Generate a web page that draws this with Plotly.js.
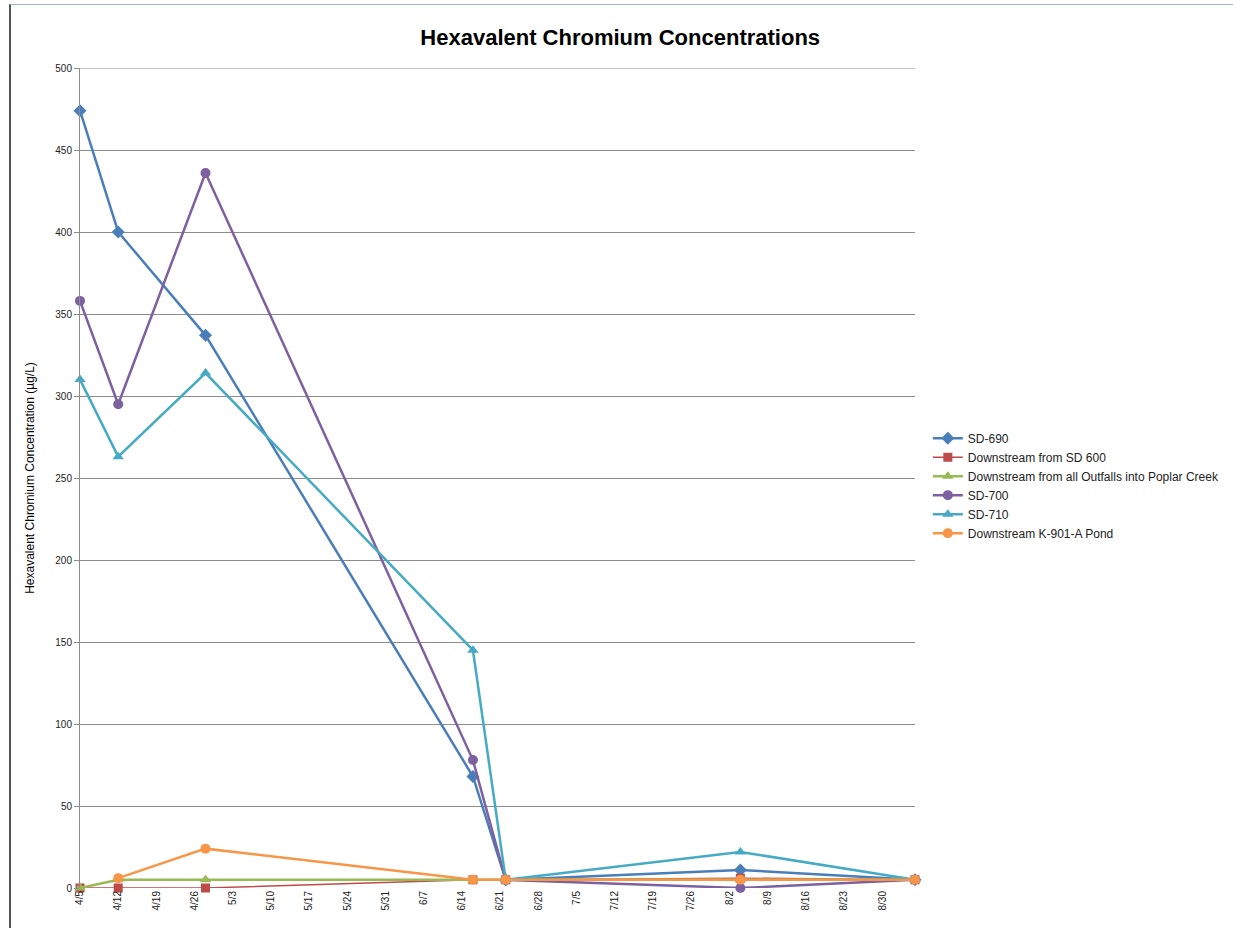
<!DOCTYPE html>
<html>
<head>
<meta charset="utf-8">
<script src="https://cdn.plot.ly/plotly-3.0.1.min.js"></script>
<style>
html,body{margin:0;padding:0;background:#fff;}
#wrap{position:relative;width:1233px;height:928px;}
#chart{width:1233px;height:928px;}
#frame{position:absolute;left:9px;top:4px;width:1222px;height:930px;border-left:2px solid #555;border-top:1px solid #9bb;pointer-events:none;}
</style>
</head>
<body>
<div id="wrap"><div id="chart"></div><div id="frame"></div></div>
<script>
const dates = ['2011-04-05','2011-04-12','2011-04-28','2011-06-16','2011-06-22','2011-08-04','2011-09-05'];
const sd690 = [474, 400, 337, 68, 5, 11, 5];
const downSD600 = [0, 0, 0, 5, 5, 6, 5];
const downAllOutfalls = [0, 5, 5, 5, 5, 5, 5];
const sd700 = [358, 295, 436, 78, 5, 0, 5];
const sd710 = [310, 263, 314, 145, 5, 22, 5];
const downK901A = [null, 6, 24, 5, 5, 5, 5];

const names = ['SD-690','Downstream from SD 600','Downstream from all Outfalls into Poplar Creek','SD-700','SD-710','Downstream K-901-A Pond'];
const colors = ['#4A7EBB','#BE4B48','#98B954','#7D60A0','#46AAC5','#F79646'];
const symbols = ['diamond','square','triangle-up','circle','triangle-up','circle'];
const widths = [2.5, 1.5, 2.5, 2.5, 2.5, 2.5];
const series = [sd690, downSD600, downAllOutfalls, sd700, sd710, downK901A];

const traces = series.map((s,i)=>({
  x: dates, y: s, name: names[i], type:'scatter', mode:'lines+markers', cliponaxis:false,
  line:{color:colors[i], width:widths[i]},
  marker:{color:colors[i], symbol:symbols[i], size: i===1?9:10}
}));

const layout = {
  width:1233, height:928,
  margin:{l:80, r:318, t:68, b:40},
  paper_bgcolor:'#fff', plot_bgcolor:'#fff',
  title:{text:'<b>Hexavalent Chromium Concentrations</b>', x:0.503, xanchor:'center', y:0.96, yanchor:'middle',
         font:{family:'Liberation Sans, Arial, sans-serif', size:22, color:'#000'}},
  xaxis:{type:'date', range:['2011-04-05','2011-09-05'], tick0:'2011-04-05', dtick:7*86400000,
         tickformat:'%-m/%-d', tickangle:-90, showgrid:false, zeroline:false,
         showline:false, ticks:'', tickfont:{family:'Liberation Sans, Arial, sans-serif', size:10, color:'#222'}},
  yaxis:{range:[0,500], dtick:50, showgrid:true, gridcolor:'#8c8c8c', gridwidth:1, zeroline:false,
         showline:true, linecolor:'#8c8c8c', linewidth:1, ticks:'outside', ticklen:5, tickcolor:'#8c8c8c',
         tickfont:{family:'Liberation Sans, Arial, sans-serif', size:10, color:'#222'},
         title:{text:'Hexavalent Chromium Concentration (µg/L)', standoff:18,
                font:{family:'Liberation Sans, Arial, sans-serif', size:12, color:'#000'}}},
  shapes:[{type:'line', xref:'paper', yref:'y', x0:0, x1:1, y0:500, y1:500, line:{color:'#8c8c8c', width:1}}],
  showlegend:true,
  legend:{xref:'container', yref:'container', x:0.7525, xanchor:'left', y:0.5435, yanchor:'top', bgcolor:'rgba(0,0,0,0)',
          font:{family:'Liberation Sans, Arial, sans-serif', size:12, color:'#222'}, tracegroupgap:0, itemwidth:30}
};
Plotly.newPlot('chart', traces, layout, {displayModeBar:false, staticPlot:true});
</script>
</body>
</html>
